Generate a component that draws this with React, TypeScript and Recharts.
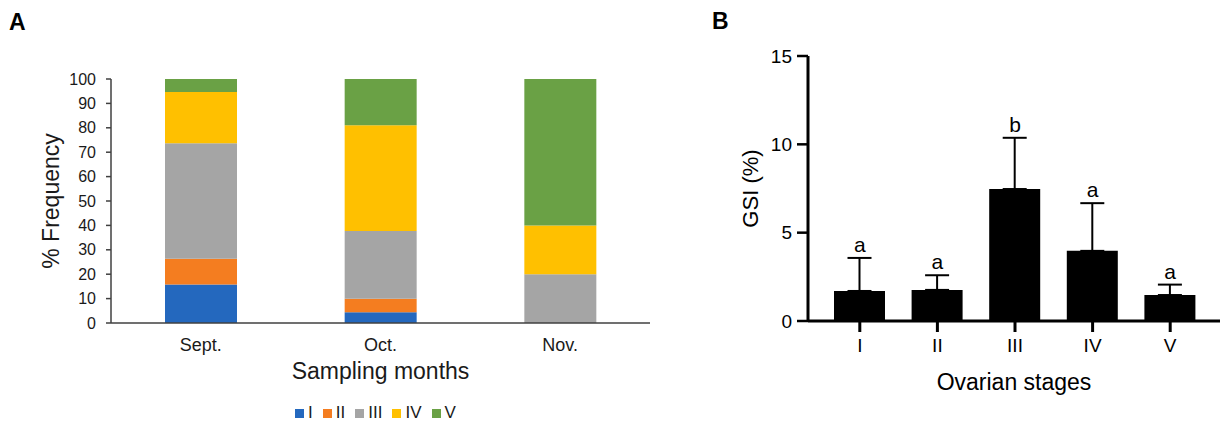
import React from 'react';
import {
  BarChart,
  Bar,
  XAxis,
  YAxis,
  Legend,
  ComposedChart,
  Line,
  LabelList,
  ErrorBar,
} from 'recharts';

// ---------- Panel A data ----------
const months = ['Sept.', 'Oct.', 'Nov.'];
const stageI = [15.8, 4.4, 0];
const stageII = [10.5, 5.5, 0];
const stageIII = [47.4, 27.8, 20];
const stageIV = [21.0, 43.3, 20];
const stageV = [5.3, 19.0, 60];
const freqTicks = [0, 10, 20, 30, 40, 50, 60, 70, 80, 90, 100];
const stageNames = ['I', 'II', 'III', 'IV', 'V'];
const stageColors = ['#2468BE', '#F47D20', '#A5A5A5', '#FFC000', '#6AA145'];

// ---------- Panel B data ----------
const ovStages = ['I', 'II', 'III', 'IV', 'V'];
const gsiMean = [1.7, 1.76, 7.47, 3.97, 1.47];
const gsiSd = [1.87, 0.83, 2.9, 2.7, 0.59];
const sigLetters = ['a', 'a', 'b', 'a', 'a'];
const gsiTicks = [0, 5, 10, 15];

const FONT = '"Liberation Sans", Arial, sans-serif';

const dataA = months.map((m, i) => ({
  month: m,
  I: stageI[i],
  II: stageII[i],
  III: stageIII[i],
  IV: stageIV[i],
  V: stageV[i],
}));

const dataB = ovStages.map((s, i) => ({
  stage: s,
  mean: gsiMean[i],
  err: [0, gsiSd[i]],
  top: gsiMean[i] + gsiSd[i],
  letter: sigLetters[i],
}));

const axisA = '#404040';
const textA = '#1a1a1a';

function PanelA() {
  return (
    <BarChart
      width={700}
      height={424}
      data={dataA}
      margin={{ top: 79, right: 50, bottom: 41, left: 0 }}
      style={{ fontFamily: FONT }}
    >
      <XAxis
        dataKey="month"
        height={60}
        tickLine={false}
        tickSize={0}
        tickMargin={15}
        axisLine={{ stroke: axisA, strokeWidth: 1.5 }}
        tick={{ fill: textA, fontSize: 18, fontFamily: FONT }}
        label={{
          value: 'Sampling months',
          position: 'insideTop',
          offset: 40,
          fill: textA,
          fontSize: 23,
          fontFamily: FONT,
        }}
      />
      <YAxis
        width={111}
        domain={[0, 100]}
        ticks={freqTicks}
        interval={0}
        tickSize={5}
        tickMargin={10}
        axisLine={{ stroke: axisA, strokeWidth: 1.5 }}
        tickLine={{ stroke: axisA, strokeWidth: 1.5 }}
        tick={{ fill: textA, fontSize: 16, fontFamily: FONT }}
        label={{
          value: '% Frequency',
          angle: -90,
          position: 'center',
          dx: -5,
          fill: textA,
          fontSize: 23,
          fontFamily: FONT,
        }}
      />
      <Legend
        layout="horizontal"
        verticalAlign="middle"
        align="center"
        iconType="square"
        iconSize={9}
        wrapperStyle={{ top: 403, left: 111, width: 539, fontFamily: FONT, fontSize: 17 }}
        formatter={(v: string) => <span style={{ color: textA }}>{v}</span>}
      />
      {stageNames.map((s, i) => (
        <Bar
          key={s}
          dataKey={s}
          name={s}
          stackId="a"
          fill={stageColors[i]}
          barSize={72}
          isAnimationActive={false}
        />
      ))}
    </BarChart>
  );
}

function PanelB() {
  return (
    <ComposedChart
      width={520}
      height={424}
      data={dataB}
      margin={{ top: 56, right: 0, bottom: 43, left: 0 }}
      style={{ fontFamily: FONT }}
    >
      <XAxis
        dataKey="stage"
        height={60}
        padding={{ left: 13, right: 11 }}
        tickSize={11}
        tickMargin={7}
        axisLine={{ stroke: '#000', strokeWidth: 3 }}
        tickLine={{ stroke: '#000', strokeWidth: 3 }}
        tick={{ fill: '#000', fontSize: 19, fontFamily: FONT }}
        label={{
          value: 'Ovarian stages',
          position: 'insideTop',
          offset: 53,
          fill: '#000',
          fontSize: 23,
          fontFamily: FONT,
        }}
      />
      <YAxis
        width={108}
        domain={[0, 15]}
        ticks={gsiTicks}
        interval={0}
        tickSize={11}
        tickMargin={5}
        axisLine={{ stroke: '#000', strokeWidth: 3 }}
        tickLine={{ stroke: '#000', strokeWidth: 2.5 }}
        tick={{ fill: '#000', fontSize: 19, fontFamily: FONT }}
        label={{
          value: 'GSI (%)',
          angle: -90,
          position: 'center',
          dx: -4,
          fill: '#000',
          fontSize: 22,
          fontFamily: FONT,
        }}
      />
      <Bar dataKey="mean" fill="#000" barSize={51} isAnimationActive={false}>
        <ErrorBar dataKey="err" direction="y" width={12} stroke="#000" strokeWidth={2} isAnimationActive={false} />
      </Bar>
      <Line
        dataKey="top"
        stroke="none"
        dot={false}
        activeDot={false}
        legendType="none"
        isAnimationActive={false}
      >
        <LabelList dataKey="letter" position="top" offset={6} fill="#000" fontSize={21} fontFamily={FONT} />
      </Line>
    </ComposedChart>
  );
}

export default function App() {
  return (
    <div
      style={{
        position: 'absolute',
        left: 0,
        top: 0,
        width: 1220,
        height: 424,
        background: '#fff',
        fontFamily: FONT,
        overflow: 'hidden',
      }}
    >
      <div
        style={{
          position: 'absolute',
          left: 9,
          top: 9,
          fontSize: 23,
          fontWeight: 'bold',
          lineHeight: '26px',
          color: '#000',
        }}
      >
        A
      </div>
      <div
        style={{
          position: 'absolute',
          left: 712,
          top: 8,
          fontSize: 23,
          fontWeight: 'bold',
          lineHeight: '26px',
          color: '#000',
        }}
      >
        B
      </div>
      <div style={{ position: 'absolute', left: 0, top: 0 }}>
        <PanelA />
      </div>
      <div style={{ position: 'absolute', left: 700, top: 0 }}>
        <PanelB />
      </div>
    </div>
  );
}
